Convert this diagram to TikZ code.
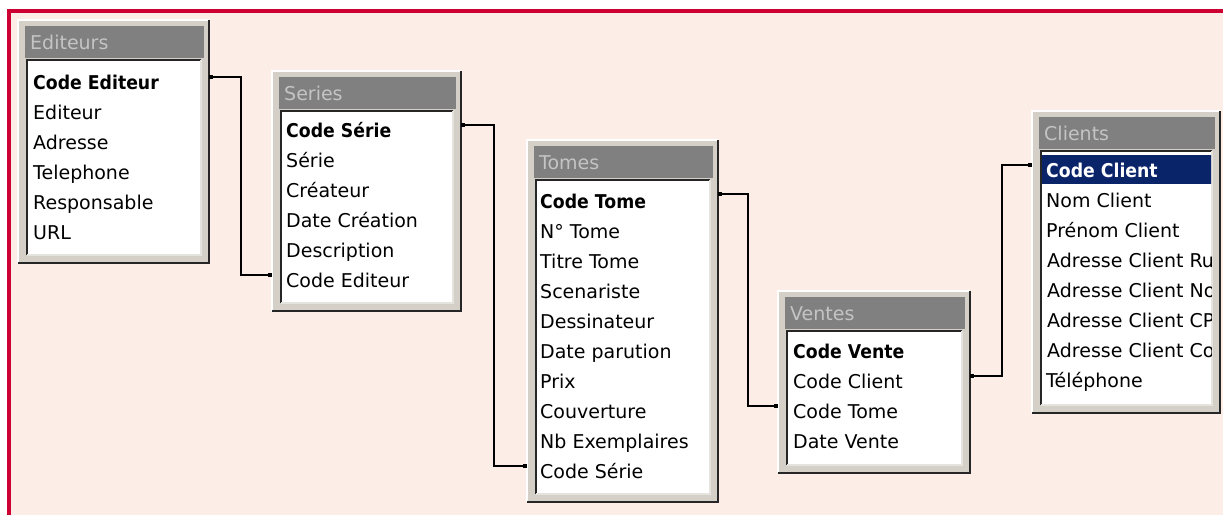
\documentclass[tikz,border=0pt]{standalone}
\usepackage{fontspec}
\setmainfont{DejaVu Sans}
\newfontfamily\keyfont[FakeStretch=0.91]{DejaVu Sans}
\definecolor{bgpeach}{RGB}{252,238,230}
\definecolor{redline}{RGB}{204,0,51}
\definecolor{framegray}{RGB}{212,208,200}
\definecolor{titlegray}{RGB}{128,128,128}
\definecolor{titletext}{RGB}{196,196,196}
\definecolor{hlnavy}{RGB}{10,36,106}
\newcommand\tabfont{\fontsize{19}{22}\selectfont}
\newcommand\dbtable[6]{%
  \node[frame, minimum width={#4-#2}, minimum height={#5-#3}] (#1F) at (#2,#3) {};
  \draw[lightedge] (#1F.south west) |- (#1F.north east);
  \draw[darkedge] (#1F.south west) -| (#1F.north east);
  \node[titlebar, minimum width={#4-#2-12}, minimum height=32] (#1B) at (#2+7,#3+6) {};
  \node[ttl] (#1T) at (#2+12,#3+29) {#6};
  \node[listbox, minimum width={#4-#2-17}, minimum height={#5-#3-48}] (#1L) at (#2+9,#3+40) {};
  \draw[sunkdark] (#1L.south west) |- (#1L.north east);
  \draw[sunklight] (#1L.south west) -| (#1L.north east);
}
\begin{document}
\begin{tikzpicture}[x=1pt,y=-1pt,
  frame/.style={fill=framegray, inner sep=0pt, outer sep=0pt, anchor=north west},
  titlebar/.style={fill=titlegray, inner sep=0pt, outer sep=0pt, anchor=north west},
  listbox/.style={fill=white, inner sep=0pt, outer sep=0pt, anchor=north west},
  ttl/.style={text=titletext, anchor=base west, inner sep=0pt, font=\tabfont},
  row/.style={anchor=base west, inner sep=0pt, font=\tabfont},
  key/.style={anchor=base west, inner sep=0pt, font=\tabfont\keyfont\bfseries},
  lightedge/.style={draw=white, line width=1.5pt},
  darkedge/.style={draw=black!85, line width=2pt},
  sunkdark/.style={draw=black!85, line width=2pt},
  sunklight/.style={draw=framegray!60, line width=1.5pt},
  conn/.style={draw=black, line width=1.4pt},
  stub/.style={draw=black, line width=3.5pt},
]
\useasboundingbox (0,0) rectangle (1223,515);
\fill[white] (0,0) rectangle (1223,515);
\fill[bgpeach] (9,11) rectangle (1223,515);
\draw[redline, line width=3.5pt] (9,515) -- (9,11) -- (1223,11);

% ---------- Editeurs
\dbtable{ed}{18}{20}{209}{263}{Editeurs}
\node[key] (ed1) at (33,89) {Code Editeur};
\node[row] (ed2) at (33,119) {Editeur};
\node[row] (ed3) at (33,149) {Adresse};
\node[row] (ed4) at (33,179) {Telephone};
\node[row] (ed5) at (33,209) {Responsable};
\node[row] (ed6) at (33,239) {URL};

% ---------- Series
\dbtable{se}{272}{71}{461}{311}{Series}
\node[key] (se1) at (286,137) {Code Série};
\node[row] (se2) at (286,167) {Série};
\node[row] (se3) at (286,197) {Créateur};
\node[row] (se4) at (286,227) {Date Création};
\node[row] (se5) at (286,257) {Description};
\node[row] (se6) at (286,287) {Code Editeur};

% ---------- Tomes
\dbtable{to}{527}{140}{718}{502}{Tomes}
\node[key] (to1) at (540,208) {Code Tome};
\node[row] (to2) at (540,238) {N° Tome};
\node[row] (to3) at (540,268) {Titre Tome};
\node[row] (to4) at (540,298) {Scenariste};
\node[row] (to5) at (540,328) {Dessinateur};
\node[row] (to6) at (540,358) {Date parution};
\node[row] (to7) at (540,388) {Prix};
\node[row] (to8) at (540,418) {Couverture};
\node[row] (to9) at (540,448) {Nb Exemplaires};
\node[row] (to10) at (540,478) {Code Série};

% ---------- Ventes
\dbtable{ve}{778}{291}{970}{473}{Ventes}
\node[key] (ve1) at (793,358) {Code Vente};
\node[row] (ve2) at (793,388) {Code Client};
\node[row] (ve3) at (793,418) {Code Tome};
\node[row] (ve4) at (793,448) {Date Vente};

% ---------- Clients
\dbtable{cl}{1032}{111}{1220}{413}{Clients}
\begin{scope}
\clip (1042,152) rectangle (1211,405);
\node[fill=hlnavy, inner sep=0pt, outer sep=0pt, anchor=north west, minimum width=171, minimum height=29] (clhl) at (1041,155) {};
\node[key, text=white] (cl1) at (1046,177) {Code Client};
\node[row] (cl2) at (1046,207) {Nom Client};
\node[row] (cl3) at (1046,237) {Prénom Client};
\node[row] (cl4) at (1047,267) {Adresse Client Ru};
\node[row] (cl5) at (1047,297) {Adresse Client No};
\node[row] (cl6) at (1047,327) {Adresse Client CP};
\node[row] (cl7) at (1047,357) {Adresse Client Co};
\node[row] (cl8) at (1046,387) {Téléphone};
\end{scope}

% ---------- connectors
\coordinate (a1) at ([yshift=12pt]ed1.base);
\coordinate (a2) at ([yshift=12pt]se6.base);
\draw[conn] (edF.east |- a1) -- ++(32,0) |- (seF.west |- a2);
\draw[stub] (edF.east |- a1) -- ++(4,0);
\draw[stub] (seF.west |- a2) -- ++(-4,0);

\coordinate (b1) at ([yshift=12pt]se1.base);
\coordinate (b2) at ([yshift=12pt]to10.base);
\draw[conn] (seF.east |- b1) -- ++(33,0) |- (toF.west |- b2);
\draw[stub] (seF.east |- b1) -- ++(4,0);
\draw[stub] (toF.west |- b2) -- ++(-4,0);

\coordinate (c1) at ([yshift=14pt]to1.base);
\coordinate (c2) at ([yshift=12pt]ve3.base);
\draw[conn] (toF.east |- c1) -- ++(30,0) |- (veF.west |- c2);
\draw[stub] (toF.east |- c1) -- ++(4,0);
\draw[stub] (veF.west |- c2) -- ++(-4,0);

\coordinate (d1) at ([yshift=12pt]ve2.base);
\coordinate (d2) at ([yshift=12pt]cl1.base);
\draw[conn] (veF.east |- d1) -- ++(32,0) |- (clF.west |- d2);
\draw[stub] (veF.east |- d1) -- ++(4,0);
\draw[stub] (clF.west |- d2) -- ++(-4,0);
\end{tikzpicture}
\end{document}
